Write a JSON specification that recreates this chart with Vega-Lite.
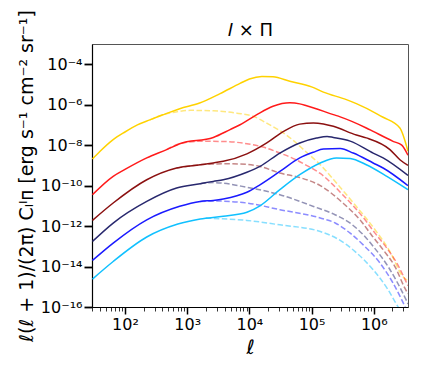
{
  "$schema": "https://vega.github.io/schema/vega-lite/v6.json",
  "autosize": {"type": "none"},
  "padding": {"left": 92, "top": 44, "right": 16, "bottom": 58},
  "width": 316,
  "height": 263,
  "background": "white",
  "config": {
    "view": {"stroke": "#555555", "strokeWidth": 1},
    "axis": {"grid": false, "domainColor": "black", "tickColor": "black", "labelColor": "black", "titleColor": "black", "labelFont": "DejaVu Sans", "titleFont": "DejaVu Sans", "labelFontSize": 16, "titleFontWeight": "normal"}
  },
  "datasets": {
    "solid": [
      {"s":"gold","l":30,"v":2.09e-9},{"s":"gold","l":39.8,"v":5.01e-9},{"s":"gold","l":63.1,"v":1.778e-8},{"s":"gold","l":100,"v":4.47e-8},{"s":"gold","l":158.5,"v":1e-7},{"s":"gold","l":251.2,"v":1.778e-7},{"s":"gold","l":407.4,"v":3.16e-7},{"s":"gold","l":758.6,"v":6.31e-7},{"s":"gold","l":1585,"v":1.202e-6},{"s":"gold","l":3388,"v":3.55e-6},{"s":"gold","l":7079,"v":1.122e-5},{"s":"gold","l":10000,"v":1.862e-5},{"s":"gold","l":15849,"v":2.51e-5},{"s":"gold","l":23988,"v":2.4e-5},{"s":"gold","l":44668,"v":1.445e-5},{"s":"gold","l":100000,"v":7.59e-6},{"s":"gold","l":154882,"v":4.17e-6},{"s":"gold","l":363078,"v":1.778e-6},{"s":"gold","l":524807,"v":1.122e-6},{"s":"gold","l":1122018,"v":3.55e-7},{"s":"gold","l":1412538,"v":2.4e-7},{"s":"gold","l":2630268,"v":7.08e-8},{"s":"gold","l":3548134,"v":5.01e-9},
      {"s":"red","l":30,"v":3.55e-11},{"s":"red","l":64.6,"v":2.88e-10},{"s":"red","l":100,"v":6.31e-10},{"s":"red","l":223.9,"v":2.34e-9},{"s":"red","l":467.7,"v":6.03e-9},{"s":"red","l":758.6,"v":1.175e-8},{"s":"red","l":2630,"v":2.4e-8},{"s":"red","l":4898,"v":5.89e-8},{"s":"red","l":7079,"v":1.023e-7},{"s":"red","l":13183,"v":3.24e-7},{"s":"red","l":23988,"v":8.32e-7},{"s":"red","l":44668,"v":1.23e-6},{"s":"red","l":64565,"v":1.096e-6},{"s":"red","l":83176,"v":8.91e-7},{"s":"red","l":223872,"v":3.24e-7},{"s":"red","l":288403,"v":2.51e-7},{"s":"red","l":758578,"v":7.08e-8},{"s":"red","l":977237,"v":4.79e-8},{"s":"red","l":2041738,"v":1.549e-8},{"s":"red","l":2818383,"v":1e-8},{"s":"red","l":3548134,"v":3.16e-9},
      {"s":"darkred","l":30,"v":1.905e-12},{"s":"darkred","l":64.6,"v":1.38e-11},{"s":"darkred","l":223.9,"v":1.95e-10},{"s":"darkred","l":676.1,"v":7.41e-10},{"s":"darkred","l":1622,"v":1.072e-9},{"s":"darkred","l":2630,"v":1.318e-9},{"s":"darkred","l":3802,"v":1.585e-9},{"s":"darkred","l":9120,"v":3.72e-9},{"s":"darkred","l":19055,"v":1.288e-8},{"s":"darkred","l":35481,"v":4.79e-8},{"s":"darkred","l":64565,"v":1.096e-7},{"s":"darkred","l":107152,"v":1.259e-7},{"s":"darkred","l":154882,"v":1.122e-7},{"s":"darkred","l":223872,"v":8.51e-8},{"s":"darkred","l":524807,"v":3.16e-8},{"s":"darkred","l":758578,"v":2.29e-8},{"s":"darkred","l":1819701,"v":6.03e-9},{"s":"darkred","l":2630268,"v":1.905e-9},{"s":"darkred","l":3548134,"v":1e-9},
      {"s":"navy","l":30,"v":1.738e-13},{"s":"navy","l":64.6,"v":1.413e-12},{"s":"navy","l":223.9,"v":1.66e-11},{"s":"navy","l":676.1,"v":7.59e-11},{"s":"navy","l":1622,"v":1.23e-10},{"s":"navy","l":2630,"v":1.622e-10},{"s":"navy","l":3802,"v":1.95e-10},{"s":"navy","l":9120,"v":4.57e-10},{"s":"navy","l":14791,"v":8.91e-10},{"s":"navy","l":30903,"v":4.07e-9},{"s":"navy","l":64565,"v":1.288e-8},{"s":"navy","l":120226,"v":2.24e-8},{"s":"navy","l":177828,"v":2.69e-8},{"s":"navy","l":223872,"v":2.4e-8},{"s":"navy","l":416869,"v":1.585e-8},{"s":"navy","l":977237,"v":4.07e-9},{"s":"navy","l":1412538,"v":2.34e-9},{"s":"navy","l":3548134,"v":3.16e-10},
      {"s":"blue","l":30,"v":2.0e-14},{"s":"blue","l":64.6,"v":1.445e-13},{"s":"blue","l":223.9,"v":2.04e-12},{"s":"blue","l":758.6,"v":9.55e-12},{"s":"blue","l":1622,"v":1.66e-11},{"s":"blue","l":2630,"v":1.862e-11},{"s":"blue","l":3802,"v":2.19e-11},{"s":"blue","l":9120,"v":4.68e-11},{"s":"blue","l":14791,"v":1.096e-10},{"s":"blue","l":30903,"v":5.01e-10},{"s":"blue","l":64565,"v":2.34e-9},{"s":"blue","l":107152,"v":4.47e-9},{"s":"blue","l":154882,"v":6.46e-9},{"s":"blue","l":288403,"v":6.76e-9},{"s":"blue","l":467735,"v":4.07e-9},{"s":"blue","l":977237,"v":1.318e-9},{"s":"blue","l":1412538,"v":7.41e-10},{"s":"blue","l":3548134,"v":1e-10},
      {"s":"lightblue","l":30,"v":2.4e-15},{"s":"lightblue","l":64.6,"v":1.778e-14},{"s":"lightblue","l":223.9,"v":2.88e-13},{"s":"lightblue","l":707.9,"v":1.259e-12},{"s":"lightblue","l":1622,"v":2.24e-12},{"s":"lightblue","l":3802,"v":3.02e-12},{"s":"lightblue","l":9120,"v":4.79e-12},{"s":"lightblue","l":14791,"v":1.0e-11},{"s":"lightblue","l":30903,"v":6.31e-11},{"s":"lightblue","l":64565,"v":3.47e-10},{"s":"lightblue","l":138038,"v":1.318e-9},{"s":"lightblue","l":251189,"v":2.34e-9},{"s":"lightblue","l":416869,"v":2.19e-9},{"s":"lightblue","l":758578,"v":1.072e-9},{"s":"lightblue","l":1621810,"v":2.88e-10},{"s":"lightblue","l":3548134,"v":6.31e-11}
    ],
    "dashed": [
      {"s":"gold","l":251.2,"v":1.778e-7},{"s":"gold","l":407.4,"v":3.16e-7},{"s":"gold","l":631,"v":4.27e-7},{"s":"gold","l":1122,"v":5.25e-7},{"s":"gold","l":2630,"v":5.01e-7},{"s":"gold","l":6310,"v":3.8e-7},{"s":"gold","l":11482,"v":2.69e-7},{"s":"gold","l":19953,"v":1.122e-7},{"s":"gold","l":31623,"v":5.01e-8},{"s":"gold","l":50119,"v":1.778e-8},{"s":"gold","l":79433,"v":5.01e-9},{"s":"gold","l":138038,"v":1.072e-9},{"s":"gold","l":251189,"v":1.349e-10},{"s":"gold","l":524807,"v":9.33e-12},{"s":"gold","l":1047129,"v":6.61e-13},{"s":"gold","l":1819701,"v":5.5e-14},{"s":"gold","l":2951209,"v":3.16e-15},{"s":"gold","l":3548134,"v":2.0e-15},
      {"s":"red","l":467.7,"v":6.03e-9},{"s":"red","l":758.6,"v":1.175e-8},{"s":"red","l":1622,"v":1.549e-8},{"s":"red","l":3981,"v":1.514e-8},{"s":"red","l":9120,"v":1.175e-8},{"s":"red","l":17783,"v":7.59e-9},{"s":"red","l":30903,"v":4.07e-9},{"s":"red","l":56234,"v":1.905e-9},{"s":"red","l":77625,"v":1.122e-9},{"s":"red","l":138038,"v":3.98e-10},{"s":"red","l":316228,"v":3.55e-11},{"s":"red","l":724436,"v":2.04e-12},{"s":"red","l":1047129,"v":4.47e-13},{"s":"red","l":1621810,"v":8.13e-14},{"s":"red","l":2344229,"v":1.479e-14},{"s":"red","l":3388442,"v":1.514e-15},{"s":"red","l":3548134,"v":1.122e-15},
      {"s":"darkred","l":676.1,"v":7.41e-10},{"s":"darkred","l":1622,"v":1.072e-9},{"s":"darkred","l":3981,"v":1.202e-9},{"s":"darkred","l":9120,"v":1.122e-9},{"s":"darkred","l":14791,"v":8.91e-10},{"s":"darkred","l":30903,"v":4.17e-10},{"s":"darkred","l":64565,"v":2.51e-10},{"s":"darkred","l":138038,"v":1e-10},{"s":"darkred","l":316228,"v":1.413e-11},{"s":"darkred","l":630957,"v":1.698e-12},{"s":"darkred","l":912011,"v":3.72e-13},{"s":"darkred","l":1412538,"v":6.76e-14},{"s":"darkred","l":2187762,"v":1e-14},{"s":"darkred","l":3162278,"v":8.51e-16},{"s":"darkred","l":3548134,"v":4.47e-16},
      {"s":"navy","l":1622,"v":1.23e-10},{"s":"navy","l":2630,"v":1.413e-10},{"s":"navy","l":9120,"v":8.32e-11},{"s":"navy","l":30903,"v":3.55e-11},{"s":"navy","l":107152,"v":9.33e-12},{"s":"navy","l":223872,"v":3.98e-12},{"s":"navy","l":436516,"v":1.259e-12},{"s":"navy","l":676083,"v":3.72e-13},{"s":"navy","l":977237,"v":1e-13},{"s":"navy","l":1698244,"v":1e-14},{"s":"navy","l":2344229,"v":1.82e-15},{"s":"navy","l":3311311,"v":2.24e-16},{"s":"navy","l":3548134,"v":1.413e-16},
      {"s":"blue","l":1622,"v":1.66e-11},{"s":"blue","l":2630,"v":1.738e-11},{"s":"blue","l":9120,"v":1.38e-11},{"s":"blue","l":30903,"v":6.46e-12},{"s":"blue","l":138038,"v":2.51e-12},{"s":"blue","l":239883,"v":1.413e-12},{"s":"blue","l":416869,"v":4.47e-13},{"s":"blue","l":676083,"v":1.175e-13},{"s":"blue","l":1258925,"v":1.479e-14},{"s":"blue","l":2041738,"v":1.514e-15},{"s":"blue","l":2818383,"v":2.24e-16},{"s":"blue","l":3548134,"v":5.01e-17},
      {"s":"lightblue","l":1995,"v":2.51e-12},{"s":"lightblue","l":2630,"v":2.4e-12},{"s":"lightblue","l":9120,"v":1.905e-12},{"s":"lightblue","l":30903,"v":1.148e-12},{"s":"lightblue","l":138038,"v":5.37e-13},{"s":"lightblue","l":251189,"v":2.51e-13},{"s":"lightblue","l":501187,"v":5.5e-14},{"s":"lightblue","l":977237,"v":6.92e-15},{"s":"lightblue","l":1698244,"v":7.08e-16},{"s":"lightblue","l":2187762,"v":1.862e-16},{"s":"lightblue","l":2818383,"v":5.01e-17}
    ]
  },
  "encoding": {
    "y": {
      "field": "v", "type": "quantitative",
      "scale": {"type": "log", "domain": [1e-16, 1e-3], "nice": false},
      "axis": {
        "title": "ℓ(ℓ + 1)/(2π) Cₗᴵᴨ [erg s⁻¹ cm⁻² sr⁻¹]", "titleFontSize": 19, "titlePadding": 4,
        "values": [1e-16, 1e-14, 1e-12, 1e-10, 1e-8, 1e-6, 1e-4],
        "labelExpr": "'10' + (round(log(datum.value)/LN10) == -4 ? '⁻⁴' : round(log(datum.value)/LN10) == -6 ? '⁻⁶' : round(log(datum.value)/LN10) == -8 ? '⁻⁸' : round(log(datum.value)/LN10) == -10 ? '⁻¹⁰' : round(log(datum.value)/LN10) == -12 ? '⁻¹²' : round(log(datum.value)/LN10) == -14 ? '⁻¹⁴' : '⁻¹⁶')",
        "labelOverlap": false, "labelFlush": false, "labelBound": false,
        "tickSize": 8, "tickWidth": 1.8, "labelPadding": 2, "domainWidth": 1.2
      }
    },
    "color": {
      "field": "s", "type": "nominal", "legend": null,
      "scale": {"domain": ["gold","red","darkred","navy","blue","lightblue"], "range": ["#FFD200","#FF1A1A","#8B1010","#28286E","#1A1AFF","#10C0FF"]}
    }
  },
  "layer": [
    {
      "data": {"name": "dashed"},
      "mark": {"type": "line", "interpolate": "monotone", "strokeWidth": 1.5, "strokeDash": [5.5, 2.5], "opacity": 0.5, "clip": true},
      "encoding": {
        "x": {
          "field": "l", "type": "quantitative",
          "scale": {"type": "log", "domain": [29.5, 3550000], "nice": false},
          "axis": {"orient": "top", "labels": false, "ticks": false, "domain": false, "title": "𝐼 × Π", "titleFontSize": 18, "titlePadding": 5, "titleFont": "DejaVu Sans"}
        }
      }
    },
    {
      "data": {"name": "solid"},
      "mark": {"type": "line", "interpolate": "monotone", "strokeWidth": 1.5, "clip": true},
      "encoding": {
        "x": {
          "field": "l", "type": "quantitative",
          "scale": {"type": "log", "domain": [29.5, 3550000], "nice": false},
          "axis": {
            "orient": "bottom",
            "title": "ℓ", "titleFontSize": 20, "titleFontStyle": "italic", "titlePadding": 5,
            "values": [30,40,50,60,70,80,90,100,200,300,400,500,600,700,800,900,1000,2000,3000,4000,5000,6000,7000,8000,9000,10000,20000,30000,40000,50000,60000,70000,80000,90000,100000,200000,300000,400000,500000,600000,700000,800000,900000,1000000,2000000,3000000],
            "labelExpr": "abs(log(datum.value)/LN10 - round(log(datum.value)/LN10)) < 0.001 ? ('10' + (round(log(datum.value)/LN10) == 2 ? '²' : round(log(datum.value)/LN10) == 3 ? '³' : round(log(datum.value)/LN10) == 4 ? '⁴' : round(log(datum.value)/LN10) == 5 ? '⁵' : '⁶')) : ''",
            "labelOverlap": false, "labelFlush": false, "labelBound": false,
            "labelPadding": 2,
            "tickSize": {"condition": {"test": "abs(log(datum.value)/LN10 - round(log(datum.value)/LN10)) < 0.001", "value": 7}, "value": 4},
            "tickWidth": {"condition": {"test": "abs(log(datum.value)/LN10 - round(log(datum.value)/LN10)) < 0.001", "value": 1.5}, "value": 0.8},
            "domainWidth": 1.2
          }
        }
      }
    }
  ],
  "resolve": {"axis": {"x": "independent"}}
}
